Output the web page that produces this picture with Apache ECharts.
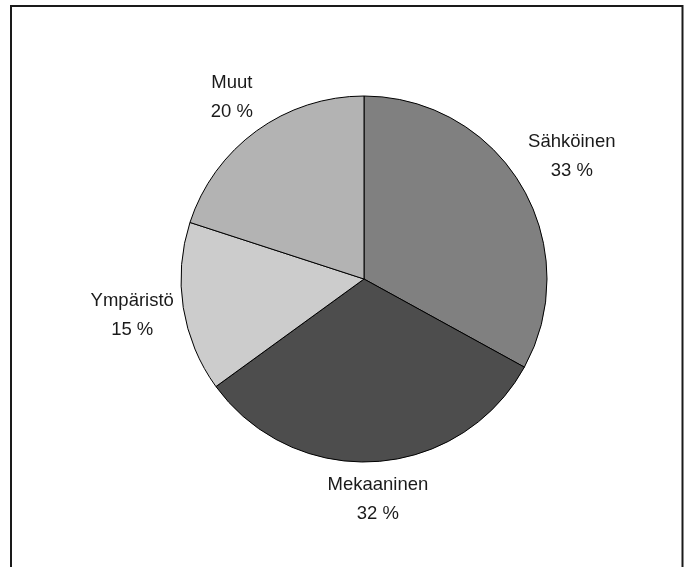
<!DOCTYPE html>
<html>
<head>
<meta charset="utf-8">
<script src="https://cdn.jsdelivr.net/npm/echarts@6/dist/echarts.min.js"></script>
<style>
html,body{margin:0;padding:0;background:#fff;}
#chart{width:687px;height:567px;}
</style>
</head>
<body>
<div id="chart"></div>
<script>
const categories = ['Sähköinen', 'Mekaaninen', 'Ympäristö', 'Muut'];
const values = [33, 32, 15, 20];
const colors = ['#808080', '#4d4d4d', '#cccccc', '#b3b3b3'];

const CX = 364, CY = 279, R = 183, GAP = 6;

const chart = echarts.init(document.getElementById('chart'), null, {renderer: 'canvas'});
chart.setOption({
  backgroundColor: '#ffffff',
  animation: false,
  graphic: [{
    type: 'rect',
    shape: {x: 11, y: 6, width: 671.5, height: 640},
    style: {fill: 'none', stroke: '#1a1a1a', lineWidth: 2},
    silent: true
  }],
  series: [{
    type: 'pie',
    center: [CX, CY],
    radius: R,
    startAngle: 90,
    clockwise: true,
    silent: true,
    data: categories.map((n, i) => ({name: n, value: values[i], itemStyle: {color: colors[i]}})),
    itemStyle: {borderColor: '#000', borderWidth: 1},
    label: {
      show: true,
      position: 'inside',
      formatter: '{b}\n{c} %',
      color: '#1a1a1a',
      fontFamily: 'Liberation Sans',
      fontSize: 18.5,
      lineHeight: 29,
      align: 'center'
    },
    labelLine: {show: false},
    labelLayout: function (p) {
      const r = p.labelRect;
      const mx = r.x + r.width / 2, my = r.y + r.height / 2;
      let ux = mx - CX, uy = my - CY;
      const L = Math.hypot(ux, uy) || 1;
      ux /= L; uy /= L;
      const s = Math.abs(ux) * r.width / 2 + Math.abs(uy) * r.height / 2;
      const d = R + GAP + s;
      return {x: CX + ux * d, y: CY + uy * d};
    }
  }]
});
</script>
</body>
</html>
